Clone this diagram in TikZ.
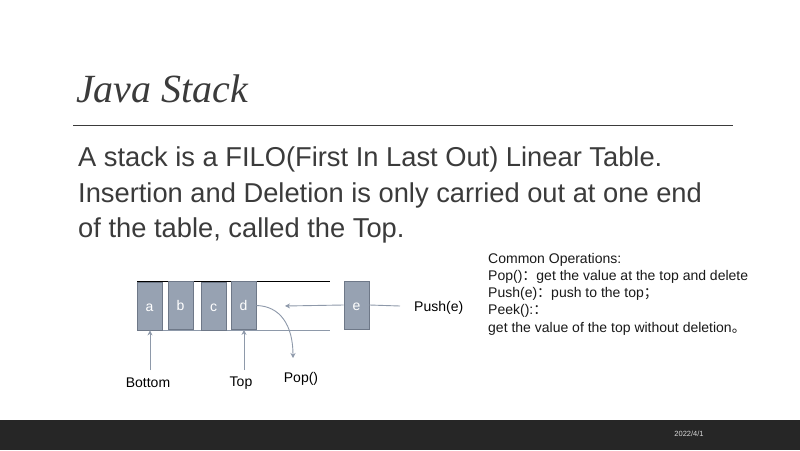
\documentclass[tikz,border=0pt]{standalone}
\usepackage{fontspec}
\setmainfont{Liberation Sans}
\newfontfamily\titlefont{Liberation Serif}
\newfontfamily\cjkfont{Noto Sans CJK SC}
\usetikzlibrary{arrows.meta}
\definecolor{textgray}{HTML}{3B3B3B}
\definecolor{boxfill}{HTML}{97A2B2}
\definecolor{boxline}{HTML}{6E7888}
\definecolor{linegray}{HTML}{8E99AA}
\definecolor{barcol}{HTML}{262626}
\tikzset{
  cell/.style={draw=boxline, fill=boxfill, line width=0.8pt, minimum width=25pt, minimum height=48pt, inner sep=0pt, text=white, font=\fontsize{14}{16}\selectfont, text height=10pt, text depth=0pt},
  conn/.style={draw=linegray, line width=0.9pt},
  tip/.style={-{Stealth[length=5pt,width=5pt]}},
  lbl/.style={font=\fontsize{14}{16}\selectfont, text=black, inner sep=0pt},
  body/.style={font=\fontsize{27.3}{34}\selectfont, text=textgray, inner sep=0pt, anchor=base west},
  ops/.style={font=\fontsize{14}{16}\selectfont, text=black!90, inner sep=0pt, anchor=base west}
}
\begin{document}
\begin{tikzpicture}[x=1pt,y=-1pt]
\useasboundingbox (0,0) rectangle (800,450);
\fill[white] (0,0) rectangle (800,450);
\fill[barcol] (0,420) rectangle (800,450);
\node[font=\fontsize{7.5}{8}\selectfont, text=white!85!black, inner sep=0pt] (date) at (689,434) {2022/4/1};
% title
\node[font=\titlefont\itshape\fontsize{40}{44}\selectfont, text=textgray, inner sep=0pt, anchor=base west] (title) at (76,102) {Java Stack};
\coordinate (rl) at (73,125);
\coordinate (rr) at (733,125);
\draw[textgray, line width=1pt] (rl) -- (rr);
% body
\node[body] (l1) at (78,166) {A stack is a FILO(First In Last Out) Linear Table.};
\node[body] (l2) at (78,202) {Insertion and Deletion is only carried out at one end};
\node[body] (l3) at (78,237) {of the table, called the Top.};
% operations
\node[ops] (o1) at (488,263) {Common Operations:};
\node[ops] (o2) at (488,280) {Pop(){\cjkfont ：}get the value at the top and delete};
\node[ops] (o3) at (488,297) {Push(e){\cjkfont ：}push to the top{\cjkfont ；}};
\node[ops] (o4) at (488,314) {Peek():{\cjkfont ：}};
\node[ops] (o5) at (488,332) {get the value of the top without deletion{\cjkfont 。}};
% stack lines
\coordinate (tl) at (137,281);
\coordinate (tr) at (330,281);
\coordinate (bl) at (137,330);
\coordinate (br) at (330,330);
\draw[black, line width=1pt] (tl) -- (tr);
\draw[conn] (bl) -- (br);
% cells
\node[cell] (a) at (149.5,306) {a};
\node[cell] (b) at (180.5,305.5) {b};
\node[cell] (c) at (213.5,306) {c};
\node[cell] (d) at (243.5,305.5) {d};
\node[cell] (e) at (356.5,305) {e};
% push
\coordinate (pushend) at (285,306);
\coordinate (pushstart) at (400,306);
\draw[conn, tip] (e.west) -- (pushend);
\draw[conn] (e.east) -- (pushstart);
\node[lbl, anchor=west] (push) at (414,308) {Push(e)};
% pop
\coordinate (popend) at (293,358);
\draw[conn, tip] (d.east) .. controls (280,306) and (293,325) .. (popend);
\node[lbl] (pop) at (301,379) {Pop()};
% bottom / top
\node[lbl] (bottom) at (148,383) {Bottom};
\node[lbl] (top) at (241,383) {Top};
\coordinate (bs) at (150,370);
\coordinate (ts) at (244,370);
\draw[conn, tip] (bs) -- (a.south -| bs);
\draw[conn, tip] (ts) -- (d.south -| ts);
\end{tikzpicture}
\end{document}
